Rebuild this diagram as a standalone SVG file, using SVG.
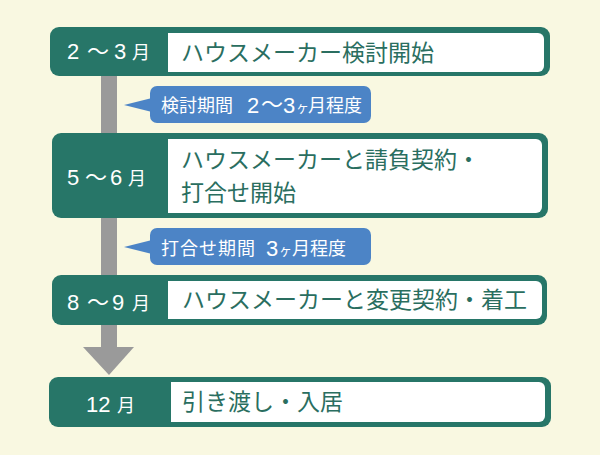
<svg xmlns="http://www.w3.org/2000/svg" width="600" height="455" viewBox="0 0 600 455">
<style>
.g{fill:#277668}
.w{fill:#ffffff}
.b{fill:#4c84c6}
.d{font-family:"Liberation Sans",Arial,sans-serif;fill:#ffffff;font-size:22px}
.j{font-family:"Noto Sans CJK JP","Noto Sans",sans-serif;fill:#ffffff}
.t{font-family:"Noto Sans CJK JP","Noto Sans",sans-serif;fill:#2a6e60;font-size:23px}
</style>
<rect width="600" height="455" fill="#f9f8e1"/>
<g id="connectors">
<rect x="101" y="74" width="16" height="274" fill="#9a9a9a"/>
<polygon points="83,347 134,347 109,375" fill="#9a9a9a"/>
</g>
<g id="node1">
<rect class="g" x="50" y="27" width="500" height="49" rx="9"/>
<path class="w" d="M168,33 H538 a6,6 0 0 1 6,6 V66 a6,6 0 0 1 -6,6 H168 Z"/>
<text class="d" x="67" y="59">2</text>
<text class="j" x="87" y="59" font-size="22">～</text>
<text class="d" x="114" y="59">3</text>
<text class="j" x="132" y="59" font-size="18">月</text>
<text class="t" x="181" y="61">ハウスメーカー検討開始</text>
</g>
<g id="callout1">
<rect class="b" x="150" y="86" width="221" height="37" rx="7"/>
<polygon class="b" points="124,105 152,98 152,112"/>
<text class="j" x="161" y="112" font-size="18">検討期間</text>
<text class="d" x="247" y="113" font-size="23">2</text>
<text class="j" x="261" y="112" font-size="22">～</text>
<text class="d" x="283" y="113" font-size="23">3</text>
<text class="j" x="296" y="112" font-size="13">ヶ</text>
<text class="j" x="308" y="112" font-size="18">月程度</text>
</g>
<g id="node2">
<rect class="g" x="52" y="133" width="496" height="85" rx="9"/>
<path class="w" d="M168,139 H536 a6,6 0 0 1 6,6 V207 a6,6 0 0 1 -6,6 H168 Z"/>
<text class="d" x="67" y="185">5</text>
<text class="j" x="85" y="185" font-size="22">～</text>
<text class="d" x="110" y="185">6</text>
<text class="j" x="128" y="185" font-size="18">月</text>
<text class="t" x="181" y="168">ハウスメーカーと請負契約・</text>
<text class="t" x="181" y="201">打合せ開始</text>
</g>
<g id="callout2">
<rect class="b" x="150" y="228" width="221" height="37" rx="7"/>
<polygon class="b" points="124,247 152,240 152,254"/>
<text class="j" x="161" y="255" font-size="18" letter-spacing="1">打合せ期間</text>
<text class="d" x="266" y="256" font-size="23">3</text>
<text class="j" x="279" y="255" font-size="13">ヶ</text>
<text class="j" x="292" y="255" font-size="18">月程度</text>
</g>
<g id="node3">
<rect class="g" x="52" y="275" width="495" height="50" rx="9"/>
<path class="w" d="M168,281 H536 a6,6 0 0 1 6,6 V313 a6,6 0 0 1 -6,6 H168 Z"/>
<text class="d" x="67" y="310">8</text>
<text class="j" x="87" y="310" font-size="22">～</text>
<text class="d" x="112" y="310">9</text>
<text class="j" x="132" y="310" font-size="18">月</text>
<text class="t" x="182" y="308">ハウスメーカーと変更契約・着工</text>
</g>
<g id="node4">
<rect class="g" x="49" y="377" width="502" height="50" rx="9"/>
<path class="w" d="M171,382 H539 a6,6 0 0 1 6,6 V416 a6,6 0 0 1 -6,6 H171 Z"/>
<text class="d" x="86" y="412">12</text>
<text class="j" x="117" y="412" font-size="18">月</text>
<text class="t" x="182" y="410">引き渡し・入居</text>
</g>
</svg>
